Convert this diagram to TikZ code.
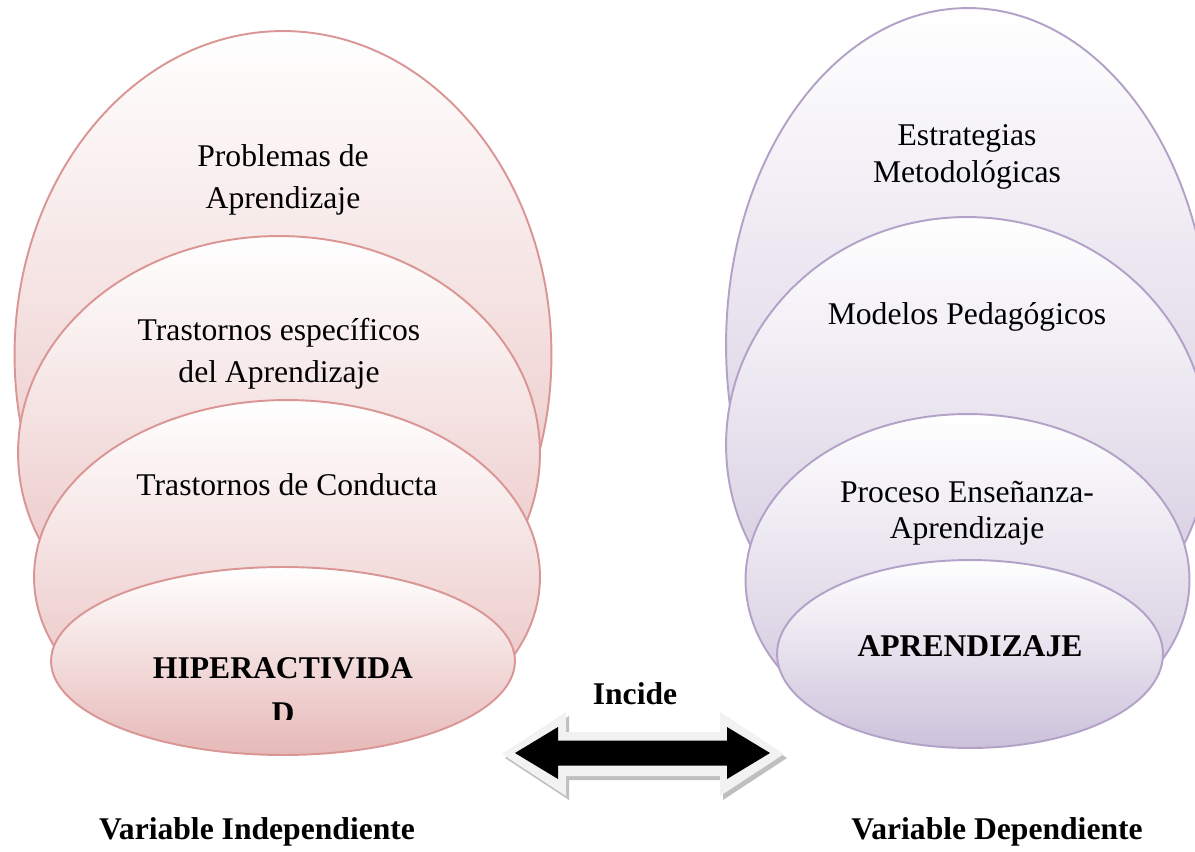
\documentclass[tikz,border=0pt]{standalone}
\usepackage{fontspec}
\setmainfont{Liberation Serif}
\usetikzlibrary{shapes.geometric}

\definecolor{rojoborde}{HTML}{D99694}
\definecolor{rojofondo}{HTML}{E6B9B8}
\definecolor{lilaborde}{HTML}{B3A2C7}
\definecolor{lilafondo}{HTML}{CCC1DA}
\definecolor{grisclaro}{HTML}{F2F2F2}
\definecolor{grissombra}{HTML}{BFBFBF}

\begin{document}
\begin{tikzpicture}[
    x=0.02cm, y=-0.02cm,
    capa/.style={ellipse, inner sep=0pt, line width=1.1pt, top color=white},
    roja/.style={capa, draw=rojoborde, bottom color=rojofondo},
    lila/.style={capa, draw=lilaborde, bottom color=lilafondo},
    texto/.style={align=center, font=\fontsize{18}{23.8}\selectfont},
    negrita/.style={align=center, font=\fontsize{18}{25.6}\selectfont\bfseries}
]
\useasboundingbox (0,0) rectangle (1195,851);
\clip (0,0) rectangle (1195,851);

% variable independiente
\node (problemas) [roja, minimum width=10.74cm, minimum height=12.96cm] at (283,355) {};
\node (especificos) [roja, minimum width=10.44cm, minimum height=8.68cm] at (279,453) {};
\node (conducta) [roja, minimum width=10.12cm, minimum height=7.08cm] at (287,577) {};
\node (hiper) [roja, minimum width=9.28cm, minimum height=3.76cm] at (283,661) {};

\node (tproblemas) [texto] at (283,180) {Problemas de\\Aprendizaje};
\node (tespecificos) [texto] at (279,354) {Trastornos específicos\\del Aprendizaje};
\node (tconducta) [texto] at (287,485) {Trastornos de Conducta};
\begin{scope}
  \clip (0,0) rectangle (1195,719);
  \node (thiper) [negrita] at (283,691) {HIPERACTIVIDA\\D};
\end{scope}

% variable dependiente
\node (estrategias) [lila, minimum width=9.68cm, minimum height=13.48cm] at (968,345) {};
\node (modelos) [lila, minimum width=9.64cm, minimum height=9.12cm] at (967,445) {};
\node (proceso) [lila, minimum width=8.88cm, minimum height=6.64cm] at (967.5,580) {};
\node (aprendizaje) [lila, minimum width=7.72cm, minimum height=3.76cm] at (970,654) {};

\node (testrategias) [texto, font=\fontsize{18}{21}\selectfont] at (967,156.5) {Estrategias\\Metodológicas};
\node (tmodelos) [texto] at (967,317) {Modelos Pedagógicos};
\node (tproceso) [texto, font=\fontsize{18}{20.5}\selectfont] at (967,513) {Proceso Enseñanza-\\Aprendizaje};
\node (taprendizaje) [negrita] at (970,646) {APRENDIZAJE};

% flecha doble
\fill[grissombra, shift={(3,4)}] (502,754) -- (566,712) -- (566,732) -- (720,732) -- (720,712) -- (784,754) -- (720,796) -- (720,776) -- (566,776) -- (566,796) -- cycle;
\fill[grisclaro] (502,754) -- (566,712) -- (566,732) -- (720,732) -- (720,712) -- (784,754) -- (720,796) -- (720,776) -- (566,776) -- (566,796) -- cycle;
\fill[black] (515,753) -- (558,727) -- (558,740.5) -- (727,740.5) -- (727,727) -- (770,753) -- (727,779) -- (727,765.5) -- (558,765.5) -- (558,779) -- cycle;
\node (incide) [negrita] at (635,694) {Incide};

% rotulos
\node (independiente) [negrita] at (257,832) {Variable Independiente};
\node (dependiente) [negrita] at (997,832) {Variable Dependiente};

\end{tikzpicture}
\end{document}
